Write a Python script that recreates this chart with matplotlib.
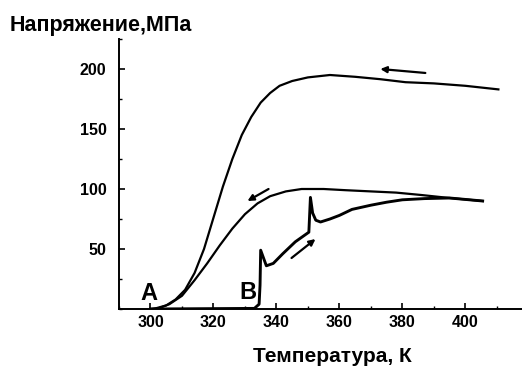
import matplotlib
matplotlib.use("Agg")
import matplotlib.pyplot as plt
from matplotlib.ticker import MultipleLocator

plt.rcParams['font.family'] = ['Liberation Sans', 'DejaVu Sans']

# Upper curve (cooling from high stress)
upper_T = [300, 302, 305, 308, 311, 314, 317, 320, 323, 326, 329, 332, 335, 338,
           341, 345, 350, 357, 365, 373, 381, 390, 400, 410.5]
upper_S = [0, 0.8, 3, 8, 16, 30, 50, 76, 102, 125, 145, 160, 172, 180,
           186, 190, 193, 195, 193.5, 191.5, 189, 188, 186, 183]

# Middle curve (cooling)
middle_T = [302, 306, 310, 314, 318, 322, 326, 330, 334, 338, 343, 348, 355,
            362, 370, 378, 386, 395, 405.5]
middle_S = [0, 4, 11, 24, 38, 53, 67, 79, 88, 94, 98, 100, 100,
            99, 98, 97, 95, 92.5, 90]

# Lower curve (heating, with jumps)
lower_T = [300, 333, 334.5, 334.8, 335, 336.8, 339, 342, 346, 350.3, 350.8, 351.5,
           352.5, 354, 357, 360, 364, 370, 375, 380, 387, 395, 405.5]
lower_S = [0, 0.5, 4, 20, 49, 36, 38, 46, 56, 64, 93, 80,
           74, 72.5, 75, 78, 83, 86.5, 89, 91, 92, 92.5, 90]

# Arrows: (tail, head) in data units
arrows = [((387.3, 196.7), (373.0, 200.0)),
          ((337.5, 100.0), (330.8, 90.0)),
          ((344.8, 42.5), (352.4, 58.3))]

point_labels = ["A", "B"]
point_pos = [(299.4, 13), (330.8, 14)]

x_ticks = [300, 320, 340, 360, 380, 400]
y_ticks = [50, 100, 150, 200]

fig = plt.figure(figsize=(5.22, 3.70), dpi=100)
ax = fig.add_axes([119/522, 61/370, 403/522, 270/370])

lw = 1.6
ax.plot(upper_T, upper_S, color='black', lw=lw, solid_joinstyle='round')
ax.plot(middle_T, middle_S, color='black', lw=lw, solid_joinstyle='round')
ax.plot(lower_T, lower_S, color='black', lw=lw * 1.3, solid_joinstyle='round')

for (tail, head) in arrows:
    ax.annotate("", xy=head, xytext=tail,
                arrowprops=dict(arrowstyle='-|>', color='black', lw=1.6,
                                mutation_scale=9, shrinkA=0, shrinkB=0))

for lab, pos in zip(point_labels, point_pos):
    ax.text(pos[0], pos[1], lab, fontsize=17, fontweight='bold',
            ha='center', va='center')

ax.set_xlim(290, 418)
ax.set_ylim(0, 225)
ax.set_xticks(x_ticks)
ax.set_yticks(y_ticks)
ax.xaxis.set_minor_locator(MultipleLocator(10))
ax.yaxis.set_minor_locator(MultipleLocator(25))
ax.tick_params(which='major', direction='in', length=4, width=1.2,
               labelsize=11.5, pad=4)
ax.tick_params(axis='y', which='major', pad=9)
ax.tick_params(which='minor', direction='in', length=2.5, width=1.0)
for lab in ax.get_xticklabels() + ax.get_yticklabels():
    lab.set_fontweight('bold')

ax.spines['top'].set_visible(False)
ax.spines['right'].set_visible(False)
ax.spines['left'].set_linewidth(1.4)
ax.spines['bottom'].set_linewidth(1.4)

fig.text(10/522, 1 - 26/370, "Напряжение,МПа", fontsize=15.5, fontweight='bold',
         ha='left', va='center')
fig.text(332/522, 1 - 356/370, "Температура, К", fontsize=15, fontweight='bold',
         ha='center', va='center')

fig.savefig("out.png", dpi=100)
